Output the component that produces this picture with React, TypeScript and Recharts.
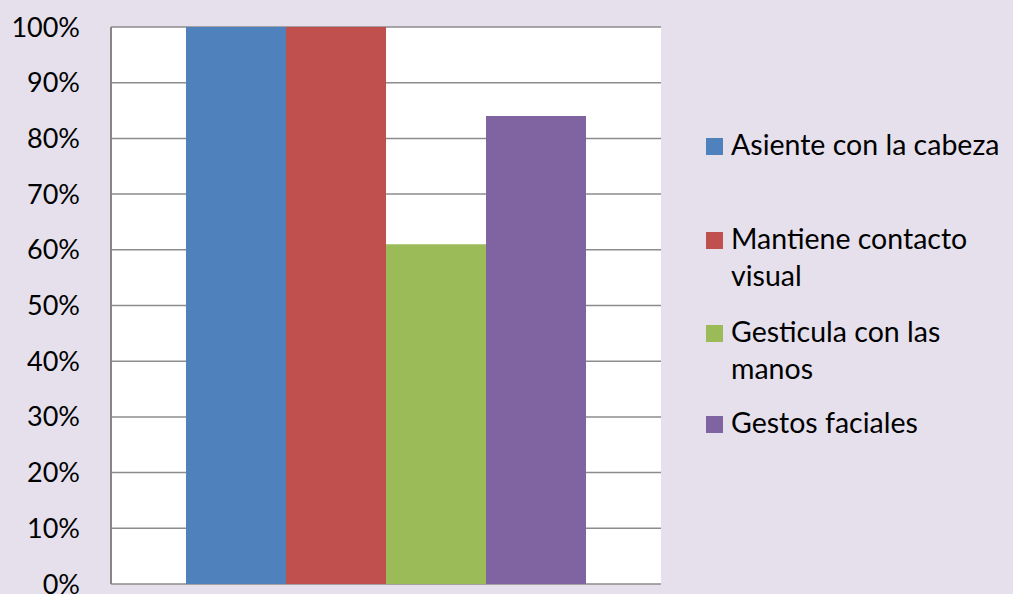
import { BarChart, Bar, XAxis, YAxis, CartesianGrid } from 'recharts';

// valores (porcentaje)
const categorias = [''];
const asiente = [100];
const mantiene = [100];
const gesticula = [61];
const gestos = [84];
const ticksY = [0, 10, 20, 30, 40, 50, 60, 70, 80, 90, 100];

const SERIES = [
  { key: 'asiente', name: 'Asiente con la cabeza', color: '#4F81BD' },
  { key: 'mantiene', name: 'Mantiene contacto visual', color: '#C0504D' },
  { key: 'gesticula', name: 'Gesticula con las manos', color: '#9BBB59' },
  { key: 'gestos', name: 'Gestos faciales', color: '#8064A2' },
];

const data = categorias.map((c, i) => ({
  name: c,
  asiente: asiente[i],
  mantiene: mantiene[i],
  gesticula: gesticula[i],
  gestos: gestos[i],
}));

const FONT = 'Lato, "Open Sans", sans-serif';
const ROW_HEIGHTS = [94, 93, 91, 40];

const Leyenda = () => (
  <div
    style={{
      position: 'absolute',
      left: 706,
      top: 126,
      width: 307,
      fontFamily: FONT,
      fontSize: 28.5,
      lineHeight: '37px',
      color: '#000',
    }}
  >
    {SERIES.map((s, i) => (
      <div key={s.key} style={{ position: 'relative', height: ROW_HEIGHTS[i], paddingLeft: 25 }}>
        <span
          style={{
            position: 'absolute',
            left: 0,
            top: 12,
            width: 17,
            height: 17,
            background: s.color,
          }}
        />
        <div style={{ width: 280 }}>{s.name}</div>
      </div>
    ))}
  </div>
);

const App = () => {
  return (
    <div style={{ position: 'fixed', left: 0, top: 0, width: 1013, height: 594, background: '#E5E0EC' }}>
      <BarChart
        width={1013}
        height={594}
        data={data}
        margin={{ top: 27, right: 352, bottom: 10, left: 0 }}
        barCategoryGap={75}
        barGap={0}
      >
        <CartesianGrid vertical={false} fill="#FFFFFF" stroke="#8C8C8C" strokeWidth={1.5} />
        <XAxis dataKey="name" tick={false} tickLine={false} height={0} axisLine={{ stroke: '#868686', strokeWidth: 2 }} />
        <YAxis
          width={111}
          domain={[0, 100]}
          ticks={ticksY}
          interval={0}
          tickFormatter={(v) => `${v}%`}
          tickLine={false}
          tickSize={0}
          tickMargin={31}
          axisLine={{ stroke: '#868686', strokeWidth: 2 }}
          tick={{ fill: '#000', fontSize: 27, fontFamily: FONT }}
        />
        {SERIES.map((s) => (
          <Bar key={s.key} dataKey={s.key} name={s.name} fill={s.color} isAnimationActive={false} />
        ))}
      </BarChart>
      <Leyenda />
    </div>
  );
};

export default App;
